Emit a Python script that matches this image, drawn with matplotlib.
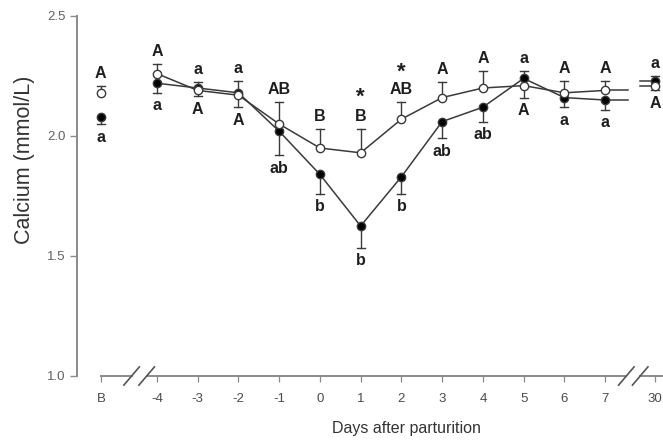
import matplotlib
matplotlib.use("Agg")
import matplotlib.pyplot as plt
import numpy as np

plt.rcParams['font.family'] = ['Liberation Sans', 'DejaVu Sans']

# Data
tick_labels = ['B', '-4', '-3', '-2', '-1', '0', '1', '2', '3', '4', '5', '6', '7', '30']
xpos = [-5.375, -4, -3, -2, -1, 0, 1, 2, 3, 4, 5, 6, 7, 8.23]

open_vals = [2.18, 2.26, 2.19, 2.17, 2.05, 1.95, 1.93, 2.07, 2.16, 2.20, 2.21, 2.18, 2.19, 2.21]
open_err = [0.03, 0.04, 0.025, 0.05, 0.09, 0.08, 0.10, 0.07, 0.065, 0.07, 0.05, 0.05, 0.04, 0.02]
open_dir = [1, 1, -1, -1, 1, 1, 1, 1, 1, 1, -1, 1, 1, -1]
open_labels = ['A', 'A', 'A', 'A', 'AB', 'B', 'B', 'AB', 'A', 'A', 'A', 'A', 'A', 'A']

filled_vals = [2.08, 2.22, 2.20, 2.18, 2.02, 1.84, 1.625, 1.83, 2.06, 2.12, 2.24, 2.16, 2.15, 2.23]
filled_err = [0.03, 0.04, 0.025, 0.05, 0.10, 0.08, 0.09, 0.07, 0.07, 0.06, 0.03, 0.04, 0.04, 0.02]
filled_dir = [-1, -1, 1, 1, -1, -1, -1, -1, -1, -1, 1, -1, -1, 1]
filled_labels = ['a', 'a', 'a', 'a', 'ab', 'b', 'b', 'b', 'ab', 'ab', 'a', 'a', 'a', 'a']

star_days = ['1', '2']

fig = plt.figure(figsize=(6.63, 4.41), dpi=100)
ax = fig.add_axes([77/663, 65/441, 586/663, 360/441])
ax.set_xlim(-5.96, 8.42)
ax.set_ylim(1.0, 2.5)

line_c = '#3a3a3a'
axis_c = '#8a8a8a'
text_c = '#1e1e1e'

def draw_series(vals, errs, dirs, labels, face, z):
    xs = np.array(xpos)
    v = np.array(vals)
    ax.plot(xs[1:13], v[1:13], color=line_c, lw=1.1, zorder=z, clip_on=False)
    ax.plot([xs[12], 7.56], [v[12], v[12]], color=line_c, lw=1.1, zorder=z, clip_on=False)
    ax.plot([7.86, xs[13]], [v[13], v[13]], color=line_c, lw=1.1, zorder=z, clip_on=False)
    for x, y, e, d, lab in zip(xs, v, errs, dirs, labels):
        end = y + d * e
        ax.plot([x, x], [y, end], color=line_c, lw=1.0, zorder=z - 0.5, clip_on=False)
        ax.plot([x - 0.1, x + 0.1], [end, end], color=line_c, lw=1.0, zorder=z - 0.5, clip_on=False)
        off = 9 if d > 0 else -9.5
        ax.annotate(lab, (x, end), xytext=(0, off), textcoords='offset points',
                    ha='center', va='center', fontsize=11.5, fontweight='bold',
                    color=text_c, annotation_clip=False)
    ax.plot(xs, v, 'o', ms=6, mfc=face, mec=line_c, mew=1.0, zorder=z + 1, clip_on=False, ls='none')

draw_series(filled_vals, filled_err, filled_dir, filled_labels, 'black', 4)
draw_series(open_vals, open_err, open_dir, open_labels, 'white', 6)

for lab in star_days:
    i = tick_labels.index(lab)
    end = open_vals[i] + open_dir[i] * open_err[i]
    ax.annotate('*', (xpos[i], end), xytext=(0, 23 if lab == '1' else 21.5), textcoords='offset points',
                ha='center', va='center', fontsize=16, fontweight='bold', color=text_c,
                annotation_clip=False)

for s in ['top', 'right', 'bottom']:
    ax.spines[s].set_visible(False)
ax.spines['left'].set_color(axis_c)
ax.spines['left'].set_linewidth(1.4)
ax.spines['left'].set_bounds(1.0, 2.5)

# custom broken x axis
segs = [(-5.375, -4.62), (-4.25, 7.52), (7.86, 8.42)]
for a, b in segs:
    ax.plot([a, b], [1.0, 1.0], color=axis_c, lw=1.4, clip_on=False, zorder=1)
dx = 0.19
dy = 0.038
for cx in [-4.62, -4.25, 7.52, 7.86]:
    ax.plot([cx - dx, cx + dx], [1.0 - dy, 1.0 + dy], color='#555555', lw=1.2, clip_on=False, zorder=2)

ax.set_xticks(xpos)
ax.set_xticklabels(tick_labels)
ax.tick_params(axis='x', direction='out', length=4, width=0.9, color=axis_c,
               labelsize=9.5, labelcolor='#4a4a4a', pad=8)

ax.set_yticks([1.0, 1.5, 2.0, 2.5])
ax.set_yticklabels(['1.0', '1.5', '2.0', '2.5'])
ax.tick_params(axis='y', direction='out', length=5, width=1.0, color=axis_c,
               labelsize=9.5, labelcolor='#606060', pad=3)

ax.set_ylabel('Calcium (mmol/L)', fontsize=15.5, color='#333333')
ax.yaxis.set_label_coords(-0.072, 0.60)
ax.set_xlabel('Days after parturition', fontsize=11.5, color='#333333')
ax.xaxis.set_label_coords(0.563, -0.125)

fig.savefig('out.png', dpi=100)
